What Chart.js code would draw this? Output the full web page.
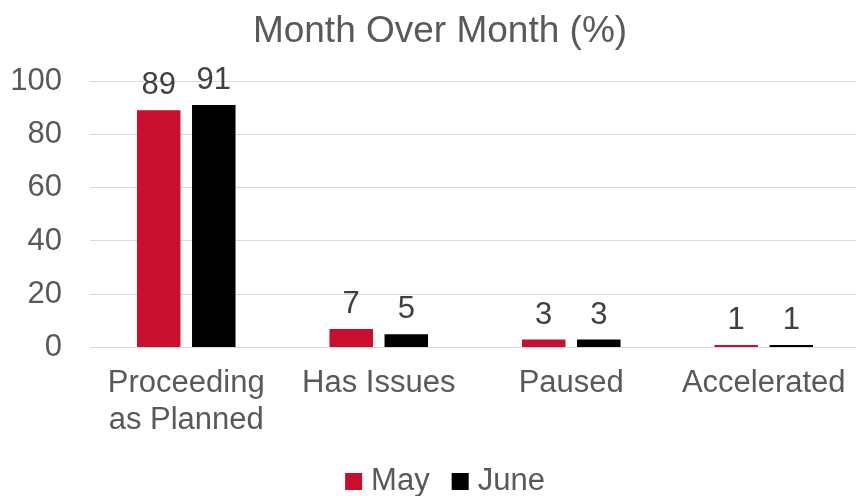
<!DOCTYPE html>
<html>
<head>
<meta charset="utf-8">
<script src="https://cdn.jsdelivr.net/npm/chart.js@4.4.1/dist/chart.umd.min.js"></script>
<style>
  html, body { margin: 0; padding: 0; background: #fff; overflow: hidden; }
  #wrap { width: 860px; height: 496px; position: relative; }
</style>
</head>
<body>
<div id="wrap"><canvas id="chart"></canvas></div>
<script>
"use strict";

// chart data
var categories = [["Proceeding", "as Planned"], "Has Issues", "Paused", "Accelerated"];
var mayValues = [89, 7, 3, 1];
var juneValues = [91, 5, 3, 1];
var yTicks = [0, 20, 40, 60, 80, 100];
var titleText = "Month Over Month (%)";

var FONT = "'Liberation Sans', Arial, sans-serif";

// title, drawn a bit right of the canvas centre like the original
var chartTitle = {
  id: "chartTitle",
  afterDraw: function (chart) {
    var ctx = chart.ctx;
    ctx.save();
    ctx.font = "37px " + FONT;
    ctx.fillStyle = "#595959";
    ctx.textAlign = "center";
    ctx.textBaseline = "alphabetic";
    ctx.fillText(titleText, 440, 42);
    ctx.restore();
  }
};

// legend at the bottom, squares close to the text
var bottomLegend = {
  id: "bottomLegend",
  afterDraw: function (chart) {
    var ctx = chart.ctx;
    var box = 17, gap = 9, itemGap = 22, baseline = 490;
    ctx.save();
    ctx.font = "31px " + FONT;
    ctx.textBaseline = "alphabetic";
    ctx.textAlign = "left";
    var items = chart.data.datasets.map(function (ds) {
      return { text: ds.label, color: ds.backgroundColor, w: ctx.measureText(ds.label).width };
    });
    var total = 0;
    items.forEach(function (it, i) {
      total += box + gap + it.w + (i > 0 ? itemGap : 0);
    });
    var x = 445 - total / 2;
    items.forEach(function (it) {
      ctx.fillStyle = it.color;
      ctx.fillRect(x, baseline - box, box, box);
      ctx.fillStyle = "#595959";
      ctx.fillText(it.text, x + box + gap, baseline);
      x += box + gap + it.w + itemGap;
    });
    ctx.restore();
  }
};

// value labels above each bar
var barLabels = {
  id: "barLabels",
  afterDatasetsDraw: function (chart) {
    var ctx = chart.ctx;
    ctx.save();
    ctx.font = "31px " + FONT;
    ctx.fillStyle = "#404040";
    ctx.textAlign = "center";
    ctx.textBaseline = "alphabetic";
    chart.data.datasets.forEach(function (ds, i) {
      chart.getDatasetMeta(i).data.forEach(function (bar, j) {
        ctx.fillText(String(ds.data[j]), bar.x, bar.y - 16);
      });
    });
    ctx.restore();
  }
};

const el = document.getElementById("chart");

new Chart(el, {
  type: "bar",
  data: {
    labels: categories,
    datasets: [
      {
        label: "May",
        data: mayValues,
        backgroundColor: "#C8102E",
        borderWidth: 0,
        categoryPercentage: 0.572,
        barPercentage: 0.79
      },
      {
        label: "June",
        data: juneValues,
        backgroundColor: "#000000",
        borderWidth: 0,
        categoryPercentage: 0.572,
        barPercentage: 0.79
      }
    ]
  },
  options: {
    responsive: true,
    maintainAspectRatio: false,
    animation: false,
    layout: { padding: { left: 0, right: 0, top: 81, bottom: 40 } },
    scales: {
      x: {
        afterFit: function (scale) {
          scale.paddingLeft = 0;
          scale.paddingRight = 0;
        },
        grid: { display: false, drawTicks: false },
        border: { display: false },
        ticks: {
          color: "#595959",
          padding: 17,
          font: { family: FONT, size: 31 },
          maxRotation: 0
        }
      },
      y: {
        min: 0,
        max: 100,
        afterBuildTicks: function (scale) {
          scale.ticks = yTicks.map(function (v) { return { value: v }; });
        },
        afterFit: function (scale) { scale.width = 90; },
        grid: { color: "#D9D9D9", lineWidth: 1, drawTicks: false },
        border: { display: false },
        ticks: {
          color: "#595959",
          padding: 28,
          font: { family: FONT, size: 31 }
        }
      }
    },
    plugins: {
      title: { display: false },
      legend: { display: false },
      tooltip: { enabled: false }
    }
  },
  plugins: [barLabels, chartTitle, bottomLegend]
});
</script>
</body>
</html>
